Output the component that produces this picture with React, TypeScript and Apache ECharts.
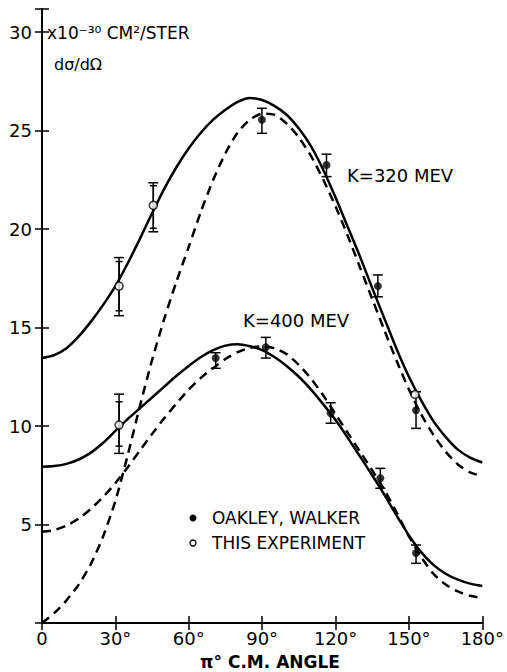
import React, { useEffect, useRef } from "react";
import * as echarts from "echarts";

// Angles (deg) at which the curves were read (every 5 degrees)
const angles = [
  0, 5, 10, 15, 20, 25, 30, 35, 40, 45, 50, 55, 60, 65, 70, 75, 80, 85, 90,
  95, 100, 105, 110, 115, 120, 125, 130, 135, 140, 145, 150, 155, 160, 165, 170, 175, 180,
];
// K = 320 MeV curves
const k320Solid = [
  13.45, 13.6, 13.95, 14.55, 15.3, 16.15, 17.1, 18.25, 19.5, 20.8, 22.05, 23.15, 24.1, 24.9, 25.55, 26.05, 26.45, 26.65, 26.55,
  26.25, 25.8, 25.1, 24.2, 23.0, 21.6, 20.1, 18.6, 17.0, 15.45, 13.9, 12.5, 11.3, 10.25, 9.45, 8.8, 8.4, 8.15,
];
const k320Dashed = [
  0, 0.5, 1.15, 1.95, 3.0, 4.4, 6.2, 8.5, 11.0, 13.35, 15.45, 17.35, 19.1, 20.9, 22.5, 23.85, 24.9, 25.55, 25.85,
  25.8, 25.35, 24.65, 23.7, 22.5, 21.15, 19.65, 18.05, 16.45, 14.85, 13.3, 11.85, 10.6, 9.55, 8.7, 8.05, 7.65, 7.45,
];
// K = 400 MeV curves
const k400Solid = [
  7.93, 7.97, 8.08, 8.3, 8.65, 9.15, 9.75, 10.35, 10.9, 11.45, 12.0, 12.55, 13.05, 13.5, 13.85, 14.08, 14.15, 14.05, 13.85,
  13.5, 13.05, 12.5, 11.85, 11.1, 10.3, 9.4, 8.45, 7.5, 6.5, 5.45, 4.45, 3.6, 2.95, 2.5, 2.2, 2.0, 1.88,
];
const k400Dashed = [
  4.63, 4.72, 4.95, 5.3, 5.8, 6.4, 7.1, 7.9, 8.75, 9.6, 10.4, 11.15, 11.85, 12.45, 12.95, 13.4, 13.75, 13.97, 14.05,
  13.95, 13.65, 13.1, 12.4, 11.55, 10.6, 9.65, 8.7, 7.75, 6.75, 5.6, 4.4, 3.35, 2.5, 1.95, 1.6, 1.38, 1.27,
];

// Oakley, Walker points
const oakleyAngles = [89.9, 116.3, 137.3, 152.9, 71, 91.5, 118, 138.3, 152.9];
const oakleyValues = [25.55, 23.25, 17.1, 10.8, 13.45, 14.0, 10.65, 7.35, 3.55];
const oakleyLow = [24.86, 22.66, 16.56, 9.88, 12.93, 13.45, 10.14, 6.84, 3.03];
const oakleyHigh = [26.13, 23.8, 17.67, 11.74, 13.72, 14.5, 11.18, 7.85, 3.96];

// This experiment points
const expAngles = [31.5, 45.5, 31.5, 152.5];
const expValues = [17.1, 21.2, 10.05, 11.6];
const expLowOuter = [15.6, 19.86, 8.61, null];
const expHighOuter = [18.55, 22.35, 11.62, null];
const expLowInner = [15.85, 20.04, 8.98, null];
const expHighInner = [18.35, 22.2, 11.23, null];

const xTicks = [0, 30, 60, 90, 120, 150, 180];
const yTicks = [5, 10, 15, 20, 25, 30];

const FONT = "DejaVu Sans";

export default function App() {
  const ref = useRef<HTMLDivElement>(null);
  useEffect(() => {
    if (!ref.current) return;
    const chart = echarts.init(ref.current, undefined, { renderer: "svg" });

    const errData: any[] = [];
    oakleyAngles.forEach((a, i) => errData.push([a, oakleyLow[i], oakleyHigh[i], 10]));
    expAngles.forEach((a, i) => {
      if (expLowOuter[i] != null) errData.push([a, expLowOuter[i], expHighOuter[i], 10]);
      if (expLowInner[i] != null) errData.push([a, expLowInner[i], expHighInner[i], 7]);
    });

    const lineSeries = (data: number[], dashed: boolean) => ({
      type: "line",
      data: angles.map((a, i) => [a, data[i]]),
      smooth: 0.25,
      showSymbol: false,
      symbol: "none",
      silent: true,
      lineStyle: { color: "#000", width: 2.5, type: dashed ? [9, 6] : "solid" },
      z: 2,
    });

    const axisCommon = {
      axisLine: { show: true, lineStyle: { color: "#000", width: 2 } },
      axisTick: { show: true, inside: true, length: 7, lineStyle: { color: "#000", width: 1.5 } },
      splitLine: { show: false },
    };

    const txt = (text: string, x: number, y: number, size: number, extra: any = {}) => ({
      type: "text",
      x,
      y,
      silent: true,
      style: {
        text,
        font: `${extra.bold ? "bold " : ""}${size}px "${FONT}"`,
        fill: "#000",
        textAlign: extra.align || "left",
        textVerticalAlign: "middle",
        align: extra.align || "left",
        verticalAlign: "middle",
      },
    });

    chart.setOption({
      animation: false,
      backgroundColor: "#fff",
      grid: { left: 42, right: 22, top: 9, bottom: 49, containLabel: false },
      xAxis: [
        {
          type: "value",
          min: 0,
          max: 180,
          interval: 30,
          ...axisCommon,
          axisLabel: {
            show: true,
            margin: 6,
            fontSize: 18,
            fontFamily: FONT,
            color: "#000",
            formatter: (v: number) => (xTicks.includes(v) ? (v === 0 ? "0" : v + "°") : ""),
          },
        },
        {
          type: "value",
          position: "top",
          min: 0,
          max: 180,
          interval: 30,
          ...axisCommon,
          axisLabel: { show: false },
        },
      ],
      yAxis: [
        {
          type: "value",
          min: 0,
          max: 31.17,
          interval: 5,
          ...axisCommon,
          axisLabel: {
            show: true,
            margin: 10,
            fontSize: 18,
            fontFamily: FONT,
            color: "#000",
            formatter: (v: number) => (yTicks.includes(v) ? String(v) : ""),
          },
        },
        {
          type: "value",
          position: "right",
          min: 0,
          max: 31.17,
          interval: 5,
          ...axisCommon,
          axisLabel: { show: false },
        },
      ],
      series: [
        lineSeries(k320Solid, false),
        lineSeries(k320Dashed, true),
        lineSeries(k400Solid, false),
        lineSeries(k400Dashed, true),
        {
          type: "custom",
          silent: true,
          z: 3,
          data: errData,
          renderItem: (params: any, api: any) => {
            const x = api.value(0);
            const p1 = api.coord([x, api.value(1)]);
            const p2 = api.coord([x, api.value(2)]);
            const w = api.value(3) / 2;
            const st = { stroke: "#000", lineWidth: 1.5 };
            return {
              type: "group",
              children: [
                { type: "line", shape: { x1: p1[0], y1: p1[1], x2: p2[0], y2: p2[1] }, style: st },
                { type: "line", shape: { x1: p1[0] - w, y1: p1[1], x2: p1[0] + w, y2: p1[1] }, style: st },
                { type: "line", shape: { x1: p2[0] - w, y1: p2[1], x2: p2[0] + w, y2: p2[1] }, style: st },
              ],
            };
          },
        },
        {
          name: "OAKLEY, WALKER",
          type: "scatter",
          z: 4,
          symbol: "circle",
          symbolSize: 8,
          itemStyle: { color: "#000" },
          data: oakleyAngles.map((a, i) => [a, oakleyValues[i]]),
        },
        {
          name: "THIS EXPERIMENT",
          type: "scatter",
          z: 5,
          symbol: "circle",
          symbolSize: 8,
          itemStyle: { color: "#fff", borderColor: "#000", borderWidth: 1.5 },
          data: expAngles.map((a, i) => [a, expValues[i]]),
        },
      ],
      graphic: [
        txt("x10⁻³⁰ CM²/STER", 47, 33, 17),
        txt("dσ/dΩ", 54, 64, 16),
        txt("K=320 MEV", 347, 175, 18),
        txt("K=400 MEV", 243, 320, 18),
        { type: "circle", silent: true, shape: { cx: 193, cy: 518, r: 3.5 }, style: { fill: "#000" } },
        { type: "circle", silent: true, shape: { cx: 193, cy: 543, r: 3 }, style: { fill: "#fff", stroke: "#000", lineWidth: 1.3 } },
        txt("OAKLEY, WALKER", 212, 518, 17),
        txt("THIS EXPERIMENT", 212, 543, 17),
        txt("π° C.M. ANGLE", 270, 662, 17, { bold: true, align: "center" }),
      ],
    });
    return () => chart.dispose();
  }, []);
  return (
    <div
      ref={ref}
      style={{ position: "absolute", left: 0, top: 0, width: 507, height: 672, background: "#fff" }}
    />
  );
}
